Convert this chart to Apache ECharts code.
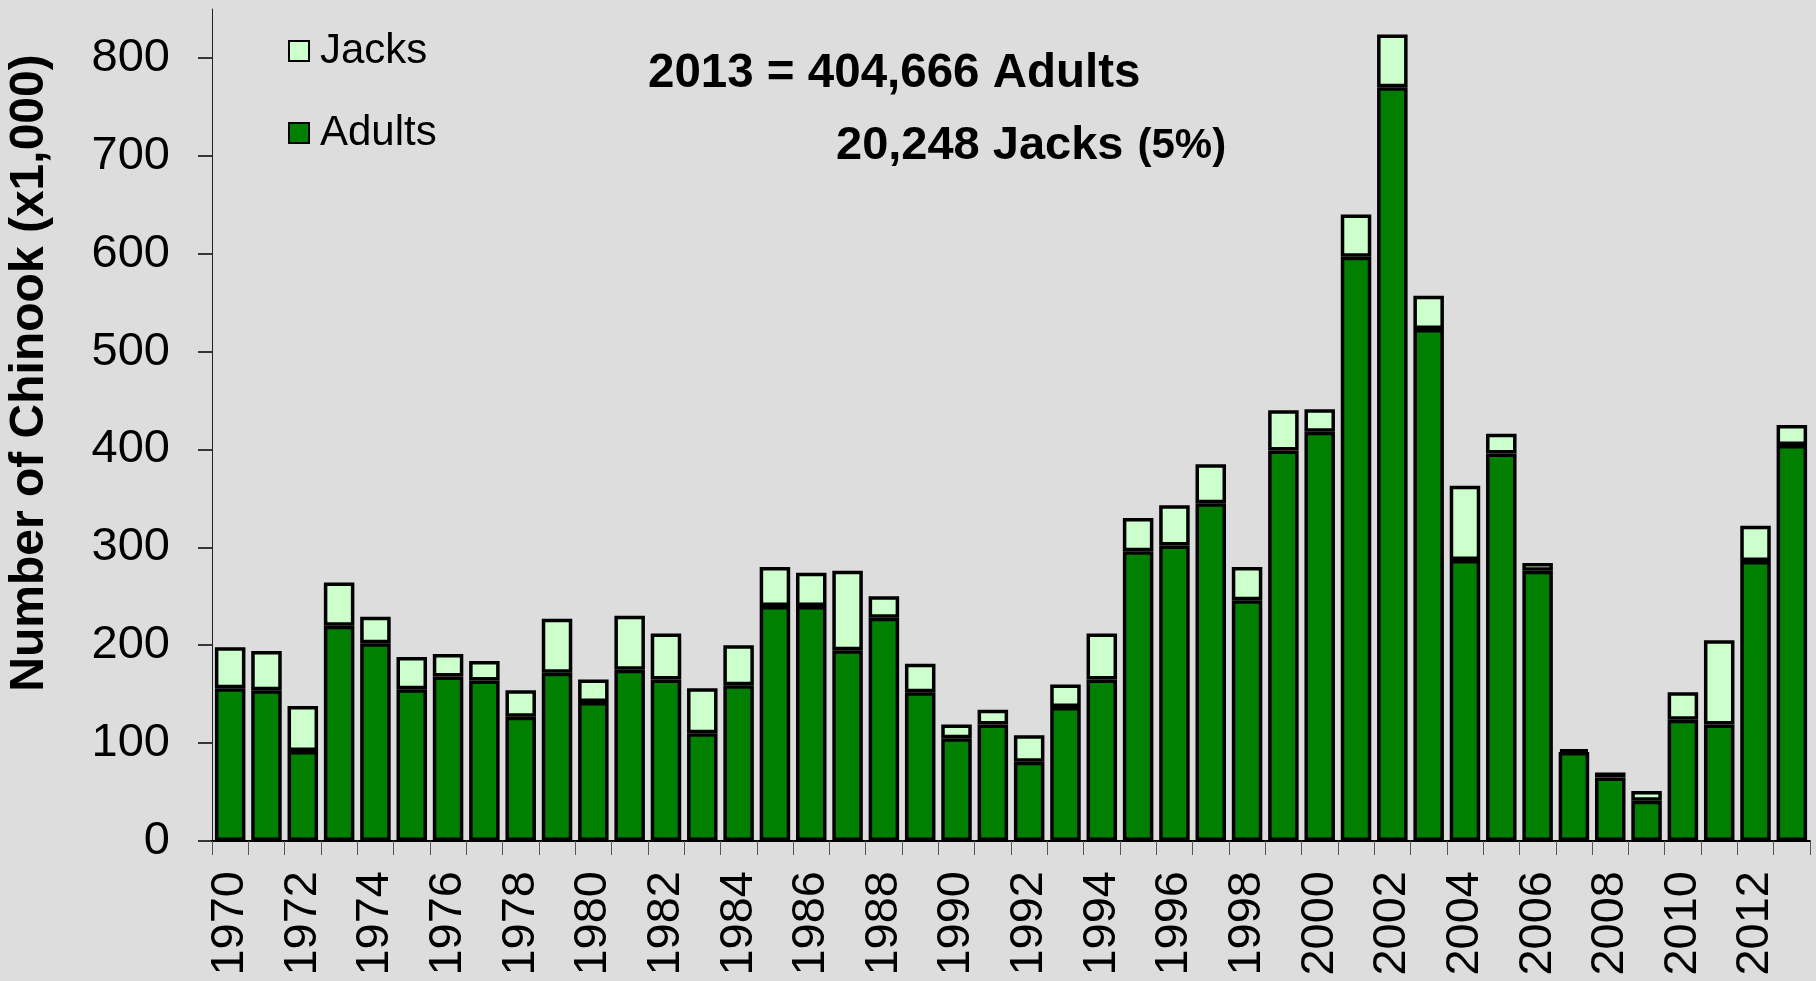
<!DOCTYPE html>
<html>
<head>
<meta charset="utf-8">
<script src="https://cdn.jsdelivr.net/npm/echarts@6/dist/echarts.min.js"></script>
<style>
  html, body { margin: 0; padding: 0; background: #dddddd; }
  #main { width: 1816px; height: 981px; }
</style>
</head>
<body>
<div id="main"></div>
<script>
// years 1970-2013, counts in thousands
var years = ['1970','1971','1972','1973','1974','1975','1976','1977','1978','1979',
  '1980','1981','1982','1983','1984','1985','1986','1987','1988','1989',
  '1990','1991','1992','1993','1994','1995','1996','1997','1998','1999',
  '2000','2001','2002','2003','2004','2005','2006','2007','2008','2009',
  '2010','2011','2012','2013']

var adults = [156, 154, 92, 220, 202, 155, 168, 164, 127, 172,
  142, 175, 165, 110, 159, 240, 240, 195, 228, 152,
  105, 119, 81, 137, 165, 296, 302, 345, 246, 399,
  418, 597, 770, 523, 287, 396, 276, 91, 65, 41,
  124, 119, 286, 404.666]

var jacks = [42, 40, 46, 44, 27, 33, 23, 20, 27, 55,
  23, 55, 47, 46, 41, 40, 34, 81, 22, 29,
  14, 15, 27, 23, 47, 34, 41, 40, 34, 41,
  23, 43, 54, 34, 76, 20, 8, 2.5, 5, 10,
  28, 86, 36, 20.248]

var yTicks = [0, 100, 200, 300, 400, 500, 600, 700, 800]

var font = '"Liberation Sans", Arial, sans-serif'

var chart = echarts.init(document.getElementById('main'))

var option = {
  backgroundColor: '#dddddd',
  animation: false,
  textStyle: { fontFamily: font, color: '#000' },
  grid: { left: 212, right: 6, top: 9, bottom: 140, containLabel: false },
  legend: {
    orient: 'vertical',
    left: 283,
    top: 25,
    icon: 'rect',
    itemWidth: 20,
    itemHeight: 20,
    itemGap: 40,
    data: ['Jacks', 'Adults'],
    textStyle: { fontFamily: font, fontSize: 42, color: '#000', padding: [0, 0, 0, 6] }
  },
  xAxis: {
    type: 'category',
    data: years,
    boundaryGap: true,
    axisLine: { show: true, lineStyle: { color: '#000', width: 2 } },
    axisTick: { show: true, interval: 0, length: 14, lineStyle: { color: '#555', width: 1 } },
    axisLabel: {
      interval: 1,
      rotate: 90,
      margin: 30,
      fontSize: 47,
      fontFamily: font,
      color: '#000'
    },
    splitLine: { show: false }
  },
  yAxis: {
    type: 'value',
    min: 0,
    max: 850,
    interval: 100,
    axisLine: { show: true, lineStyle: { color: '#222', width: 1 } },
    axisTick: { show: true, length: 14, customValues: yTicks, lineStyle: { color: '#000', width: 1.5 } },
    axisLabel: {
      customValues: yTicks,
      margin: 42,
      fontSize: 47,
      fontFamily: font,
      color: '#000'
    },
    splitLine: { show: false }
  },
  series: [
    {
      name: 'Adults',
      type: 'bar',
      stack: 'total',
      data: adults,
      barWidth: '84%',
      itemStyle: { color: '#007f00', borderColor: '#000', borderWidth: 3.5 }
    },
    {
      name: 'Jacks',
      type: 'bar',
      stack: 'total',
      data: jacks,
      barWidth: '84%',
      itemStyle: { color: '#ccffcc', borderColor: '#000', borderWidth: 3.5 }
    }
  ],
  graphic: [
    {
      type: 'text',
      x: 30,
      y: 373,
      rotation: Math.PI / 2,
      style: {
        text: 'Number of Chinook (x1,000)',
        fontFamily: font,
        fontWeight: 'bold',
        fontSize: 48,
        fill: '#000',
        align: 'center',
        verticalAlign: 'middle'
      }
    },
    {
      type: 'text',
      x: 648,
      y: 74,
      style: {
        text: '2013 = 404,666 Adults',
        fontFamily: font,
        fontWeight: 'bold',
        fontSize: 47.5,
        fill: '#000',
        align: 'left',
        verticalAlign: 'middle'
      }
    },
    {
      type: 'text',
      x: 836,
      y: 146,
      style: {
        text: '{a|20,248 Jacks}{b|(5%)}',
        fontFamily: font,
        fill: '#000',
        align: 'left',
        verticalAlign: 'middle',
        rich: {
          a: { fontFamily: font, fontWeight: 'bold', fontSize: 47, fill: '#000' },
          b: { fontFamily: font, fontWeight: 'bold', fontSize: 42, fill: '#000', padding: [0, 0, 0, 14] }
        }
      }
    }
  ]
}

chart.setOption(option)
window.addEventListener('resize', function () {
  chart.resize()
})
</script>
</body>
</html>
